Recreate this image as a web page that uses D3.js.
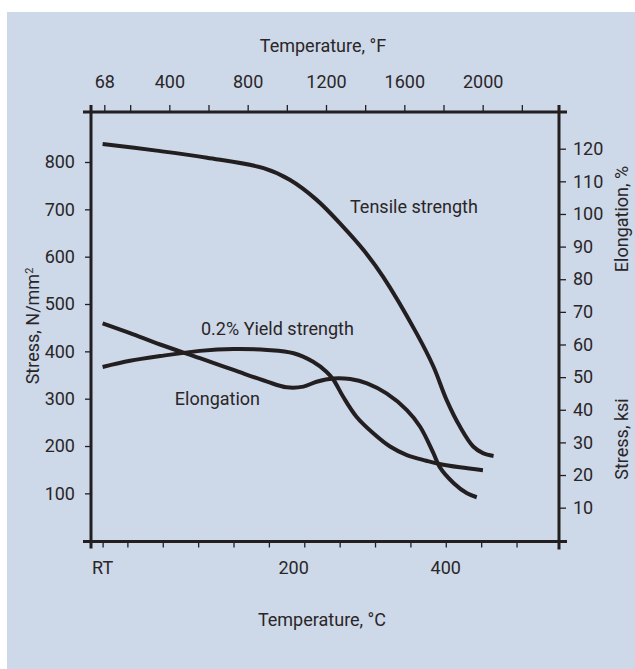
<!DOCTYPE html>
<html>
<head>
<meta charset="utf-8">
<script src="https://cdn.jsdelivr.net/npm/d3@7"></script>
<style>
  html, body { margin: 0; padding: 0; background: #fff; }
  svg { display: block; }
  text { font-family: Roboto, "Noto Sans", sans-serif; fill: #2a2627; }
</style>
</head>
<body>
<svg id="chart" width="635" height="669"></svg>
<script>
// ---- data ----
// tensile strength, N/mm² vs °C
const tensileTemp   = [12, 73, 130, 194, 224, 254, 284, 307, 329, 367, 386, 401, 416, 431, 442, 454];
const tensileStress = [838, 824, 809, 787, 762, 720, 663, 614, 558, 438, 368, 297, 241, 199, 185, 179];

// 0.2% yield strength, N/mm² vs °C
const yieldTemp   = [12, 43, 77, 122, 160, 198, 228, 250, 265, 273, 284, 299, 318, 337, 356, 378, 393, 416, 442];
const yieldStress = [367, 380, 390, 401, 405, 403, 396, 378, 357, 340, 304, 262, 227, 199, 181, 169, 162, 155, 149];

// elongation, % vs °C
const elongTemp = [12, 43, 77, 122, 160, 198, 220, 239, 254, 273, 292, 311, 333, 356, 371, 386, 393, 409, 424, 435];
const elongPct  = [66.5, 63.5, 60, 55.8, 52.2, 48.6, 46.9, 47.1, 48.6, 49.6, 49.4, 48.1, 45.0, 39.9, 34.8, 26.7, 22.5, 17.5, 14.4, 13.2];

// axis ticks
const stressTicks = [100, 200, 300, 400, 500, 600, 700, 800];
const rightTicks  = [10, 20, 30, 40, 50, 60, 70, 80, 90, 100, 110, 120];
const fTicks      = [68, 200, 400, 600, 800, 1000, 1200, 1400, 1600, 1800, 2000, 2200];
const fLabels     = [68, 400, 800, 1200, 1600, 2000];
const cTicks      = [12, 40, 80, 120, 160, 200, 240, 280, 320, 360, 400, 440, 480];
const cLabels     = [['RT', 12], ['200', 228], ['400', 400]];

// ---- layout ----
const plotLeft = 91, plotRight = 559, plotTop = 112, plotBottom = 541.5;
const ink = '#231f20';

const svg = d3.select('#chart');

svg.append('rect')
  .attr('x', 7).attr('y', 12)
  .attr('width', 628).attr('height', 657)
  .style('fill', '#cdd8e9');

// scales
const xC = d3.scaleLinear().domain([0, 528]).range([92, 559]);
const xF = d3.scaleLinear().domain([0, 2400]).range([91, 561]);
const yN = d3.scaleLinear().domain([0, 800]).range([540.7, 162]);
const yK = d3.scaleLinear().domain([0, 120]).range([540.3, 148.7]);

// ---- axes (ticks + labels) ----
function styleAxis(g) {
  g.select('.domain').remove();
  g.selectAll('.tick line').style('stroke', ink).style('stroke-width', 1.3);
  g.selectAll('.tick text')
    .style('font-size', '18px')
    .style('font-family', 'Roboto, sans-serif')
    .style('fill', '#2a2627');
}

svg.append('g')
  .attr('transform', `translate(${plotLeft},0)`)
  .call(d3.axisLeft(yN).tickValues(stressTicks).tickSize(6).tickPadding(10))
  .call(styleAxis);

svg.append('g')
  .attr('transform', `translate(${plotRight},0)`)
  .call(d3.axisRight(yK).tickValues(rightTicks).tickSize(7).tickPadding(7))
  .call(styleAxis);

svg.append('g')
  .attr('transform', `translate(0,${plotTop})`)
  .call(d3.axisTop(xF).tickValues(fTicks).tickSize(7).tickPadding(17)
    .tickFormat(d => fLabels.includes(d) ? d : ''))
  .call(styleAxis);

svg.append('g')
  .attr('transform', `translate(0,${plotBottom})`)
  .call(d3.axisBottom(xC).tickValues(cTicks).tickSize(6).tickFormat(''))
  .call(styleAxis);

svg.selectAll('.c-label')
  .data(cLabels)
  .enter().append('text')
  .attr('class', 'c-label')
  .attr('x', d => xC(d[1]))
  .attr('y', 573.5)
  .attr('text-anchor', 'middle')
  .style('font-size', '18px')
  .text(d => d[0]);

// ---- frame (axis lines overshoot the corners a little) ----
const frame = svg.append('g')
  .style('stroke', ink)
  .style('stroke-width', 3)
  .style('fill', 'none');

frame.append('line').attr('x1', plotLeft - 8).attr('x2', plotRight + 8).attr('y1', plotTop).attr('y2', plotTop);
frame.append('line').attr('x1', plotLeft - 8).attr('x2', plotRight + 8).attr('y1', plotBottom).attr('y2', plotBottom);
frame.append('line').attr('x1', plotLeft).attr('x2', plotLeft).attr('y1', plotTop - 7).attr('y2', plotBottom + 7);
frame.append('line').attr('x1', plotRight).attr('x2', plotRight).attr('y1', plotTop - 7).attr('y2', plotBottom + 8);

// ---- curves ----
function drawCurve(xs, ys, yScale) {
  const pts = xs.map((t, i) => [xC(t), yScale(ys[i])]);
  svg.append('path')
    .attr('d', d3.line().curve(d3.curveCatmullRom.alpha(0.5))(pts))
    .style('fill', 'none')
    .style('stroke', ink)
    .style('stroke-width', 4);
}

drawCurve(tensileTemp, tensileStress, yN);
drawCurve(yieldTemp, yieldStress, yN);
drawCurve(elongTemp, elongPct, yK);

// ---- labels ----
const labels = svg.append('g').style('font-size', '18px');

labels.append('text').attr('x', 350).attr('y', 212.5).text('Tensile strength');
labels.append('text').attr('x', 201).attr('y', 335).text('0.2% Yield strength');
labels.append('text').attr('x', 260).attr('y', 405).attr('text-anchor', 'end').text('Elongation');

labels.append('text')
  .attr('x', 323).attr('y', 52)
  .attr('text-anchor', 'middle')
  .text('Temperature, °F');

labels.append('text')
  .attr('x', 322).attr('y', 626)
  .attr('text-anchor', 'middle')
  .text('Temperature, °C');

const yTitle = labels.append('text')
  .attr('transform', 'translate(39,326) rotate(-90)')
  .attr('text-anchor', 'middle');
yTitle.append('tspan').text('Stress, N/mm');
yTitle.append('tspan').attr('baseline-shift', 'super').style('font-size', '11px').text('2');

labels.append('text')
  .attr('transform', 'translate(628,219) rotate(-90)')
  .attr('text-anchor', 'middle')
  .text('Elongation, %');

labels.append('text')
  .attr('transform', 'translate(628,439) rotate(-90)')
  .attr('text-anchor', 'middle')
  .text('Stress, ksi');
</script>
</body>
</html>
